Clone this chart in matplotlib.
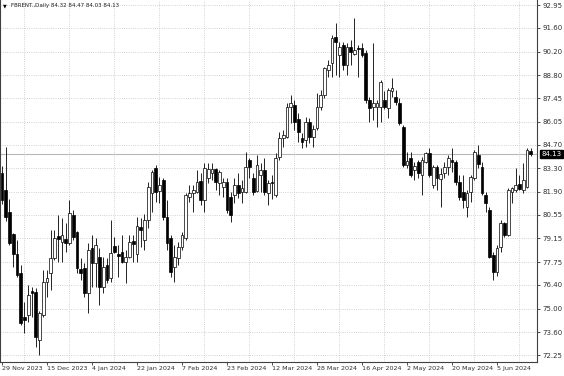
import matplotlib
matplotlib.use("Agg")
import matplotlib.pyplot as plt
import matplotlib.transforms as mtransforms
import numpy as np

# daily bars (29 Nov 2023 .. 18 Jun 2024)
opens = [
    83.02, 82.00, 80.70, 79.40, 78.20, 77.10, 74.50, 74.60, 76.05, 76.00,
    73.14, 74.60, 76.57, 77.10, 78.00, 79.30, 78.94, 79.10, 78.88, 80.53,
    79.53, 77.34, 77.40, 75.92, 78.58, 77.70, 78.05, 76.28, 77.58, 76.81,
    78.70, 78.20, 78.35, 77.75, 78.05, 79.00, 78.23, 79.83, 79.06, 80.24,
    81.84, 83.32, 81.96, 82.60, 80.42, 79.18, 77.46, 77.99, 78.64, 79.18,
    81.60, 81.84, 81.90, 82.55, 81.42, 82.72, 83.02, 83.26, 82.43, 82.20,
    82.49, 81.60, 81.72, 82.31, 81.90, 81.90, 83.79, 82.72, 81.96, 82.90,
    83.20, 81.84, 82.50, 81.72, 83.97, 85.09, 85.15, 86.92, 87.04, 86.21,
    85.09, 84.97, 86.03, 85.15, 85.68, 86.92, 87.63, 89.11, 89.52, 91.06,
    89.99, 90.59, 89.41, 90.47, 90.06, 90.41, 90.41, 90.11, 87.34, 86.92,
    86.92, 86.92, 87.34, 86.86, 87.87, 87.52, 87.16, 85.74, 83.49, 83.91,
    83.20, 83.67, 82.90, 83.67, 84.20, 82.31, 83.38, 82.66, 83.02, 83.38,
    83.79, 83.67, 82.49, 81.90, 81.01, 81.90, 82.72, 84.08, 83.38, 81.72,
    80.83, 78.17, 77.16, 78.64, 80.06, 79.35, 81.90, 82.02, 82.37, 82.02,
    82.20, 84.32,
]
highs = [
    83.45, 84.55, 81.50, 79.47, 79.06, 77.58, 75.40, 76.40, 76.28, 76.20,
    74.86, 77.28, 77.28, 79.65, 79.65, 80.53, 80.36, 80.06, 81.42, 80.83,
    79.60, 77.99, 77.70, 78.88, 79.35, 79.18, 78.58, 78.05, 77.99, 80.24,
    79.24, 78.76, 79.35, 78.47, 79.35, 79.35, 80.40, 80.36, 80.60, 82.49,
    83.20, 83.49, 82.78, 82.72, 81.42, 79.35, 78.76, 78.94, 79.53, 81.84,
    82.31, 82.31, 83.20, 83.02, 83.61, 83.61, 83.61, 83.32, 83.20, 82.72,
    82.72, 81.90, 82.72, 83.02, 82.60, 84.26, 83.91, 83.02, 84.08, 83.61,
    83.91, 82.60, 82.90, 84.20, 85.44, 85.56, 87.16, 87.63, 87.34, 86.57,
    85.38, 86.33, 86.27, 85.86, 87.75, 87.93, 89.29, 89.70, 91.18, 91.89,
    90.77, 90.77, 90.71, 90.88, 92.19, 90.59, 90.71, 90.29, 87.52, 90.71,
    87.34, 88.52, 87.87, 88.05, 88.64, 87.93, 87.46, 85.86, 84.26, 84.26,
    83.67, 83.79, 83.97, 84.26, 84.50, 83.49, 83.49, 83.32, 83.67, 84.08,
    84.50, 83.79, 82.90, 82.90, 82.02, 82.90, 84.38, 84.70, 83.67, 81.90,
    81.01, 78.35, 78.76, 80.24, 80.10, 82.13, 82.20, 83.32, 82.90, 83.61,
    84.50, 84.47,
]
lows = [
    81.20, 80.20, 78.76, 77.46, 76.87, 74.05, 73.56, 74.20, 74.50, 72.73,
    72.25, 74.50, 75.69, 76.10, 77.87, 77.75, 77.75, 78.35, 78.76, 79.06,
    77.10, 76.69, 75.69, 74.74, 76.28, 76.28, 75.21, 75.92, 76.51, 76.57,
    78.29, 76.87, 77.70, 76.51, 77.99, 77.75, 77.75, 78.64, 78.47, 79.77,
    80.71, 81.30, 81.24, 80.24, 78.47, 76.87, 76.57, 77.58, 78.47, 79.06,
    81.30, 80.71, 81.84, 81.13, 80.71, 82.43, 82.60, 82.02, 81.72, 81.60,
    80.65, 80.12, 81.24, 81.54, 81.24, 81.84, 82.72, 81.72, 81.90, 81.90,
    81.72, 81.13, 81.50, 81.60, 83.79, 84.56, 85.09, 85.97, 85.56, 84.85,
    84.50, 84.56, 84.80, 84.56, 85.56, 86.75, 87.46, 88.70, 88.70, 88.82,
    88.70, 89.11, 88.82, 89.41, 89.99, 88.70, 89.88, 87.16, 86.03, 86.15,
    85.74, 86.03, 86.80, 86.27, 87.52, 87.05, 85.86, 83.38, 83.32, 82.78,
    82.61, 82.72, 81.72, 83.60, 82.78, 82.13, 82.02, 81.01, 82.72, 82.90,
    83.08, 82.31, 81.42, 80.95, 80.42, 81.30, 82.60, 83.30, 81.72, 80.71,
    78.00, 76.69, 76.93, 78.35, 79.24, 79.30, 81.24, 81.90, 82.02, 81.84,
    82.13, 84.03,
]
closes = [
    81.40, 80.40, 78.90, 78.20, 77.00, 74.15, 74.30, 75.80, 75.95, 73.30,
    74.74, 76.60, 76.80, 78.00, 79.20, 79.10, 79.35, 78.90, 80.65, 79.24,
    77.40, 77.10, 75.92, 78.47, 77.70, 78.76, 76.28, 77.46, 76.69, 78.29,
    78.35, 78.10, 77.75, 78.05, 78.94, 78.82, 79.88, 79.65, 80.24, 82.19,
    83.08, 81.90, 82.31, 80.42, 78.88, 77.16, 78.05, 78.64, 79.35, 81.72,
    81.84, 82.02, 82.49, 81.42, 83.32, 83.26, 83.26, 82.49, 83.08, 82.49,
    80.83, 80.53, 82.31, 81.84, 82.13, 83.38, 83.38, 81.90, 83.49, 83.20,
    81.90, 82.43, 82.40, 83.91, 85.09, 85.27, 86.92, 87.16, 86.03, 85.44,
    84.85, 86.03, 85.15, 85.62, 86.92, 87.63, 89.23, 89.41, 91.00, 90.77,
    90.47, 89.41, 90.47, 90.17, 90.29, 90.35, 89.99, 87.34, 86.86, 87.16,
    87.16, 88.40, 86.92, 87.93, 88.05, 87.22, 85.97, 83.49, 83.73, 82.90,
    83.43, 83.02, 83.79, 84.20, 82.90, 83.38, 82.72, 82.96, 83.38, 83.91,
    83.67, 82.49, 81.60, 81.42, 81.84, 82.78, 84.26, 83.55, 81.84, 81.24,
    78.05, 77.16, 78.58, 80.06, 79.35, 82.02, 82.13, 82.31, 82.08, 82.61,
    84.38, 84.13,
]

price_ticks = [92.95, 91.60, 90.20, 88.80, 87.45, 86.05, 84.70, 83.30,
               81.90, 80.55, 79.15, 77.75, 76.40, 75.00, 73.60, 72.25]
date_labels = ["29 Nov 2023", "15 Dec 2023", "4 Jan 2024", "22 Jan 2024",
               "7 Feb 2024", "23 Feb 2024", "12 Mar 2024", "28 Mar 2024",
               "16 Apr 2024", "2 May 2024", "20 May 2024", "5 Jun 2024"]
title = "FBRENT.,Daily 84.32 84.47 84.03 84.13"
last_price = 84.13

W, H = 564, 376
fig = plt.figure(figsize=(W / 100, H / 100), dpi=100)
ax = fig.add_axes([0.0, 14 / H, 537 / W, 362 / H])

o = np.array(opens)
hi = np.array(highs)
lo = np.array(lows)
c = np.array(closes)
x = np.arange(len(o))
up = c >= o
body_bottom = np.minimum(o, c)
body_height = np.maximum(np.abs(c - o), 0.04)

ax.axhline(last_price, color="#b8b8b8", lw=0.8, zorder=1)
ax.vlines(x, lo, hi, color="black", lw=0.6, zorder=2)
ax.bar(x[up], body_height[up], bottom=body_bottom[up], width=0.7,
       color="white", edgecolor="black", linewidth=0.5, zorder=3)
ax.bar(x[~up], body_height[~up], bottom=body_bottom[~up], width=0.7,
       color="black", edgecolor="black", linewidth=0.5, zorder=3)

ax.set_xlim(-0.53, 142.67)
ax.set_ylim(71.84, 93.25)

# price axis on the right
ax.yaxis.tick_right()
ax.set_yticks(price_ticks)
ax.set_yticklabels([f"{v:.2f}" for v in price_ticks])
ax.tick_params(axis="y", which="major", length=2, width=0.6, pad=2,
               labelsize=5, colors="#303030")

# date axis, labels every 12 bars, grid every 6
ax.set_xticks(np.arange(len(date_labels)) * 12)
ax.set_xticklabels(date_labels)
ax.set_xticks(np.arange(0, len(o) + 1, 6), minor=True)
ax.tick_params(axis="x", which="major", length=2, width=0.6, pad=1,
               labelsize=4.6, colors="#303030")
ax.tick_params(axis="x", which="minor", length=0)
for lbl in ax.get_xticklabels():
    lbl.set_horizontalalignment("left")

ax.grid(True, axis="y", which="major", color="#c4c4c4", ls=":", lw=0.6)
ax.grid(True, axis="x", which="minor", color="#c4c4c4", ls=":", lw=0.6)
ax.set_axisbelow(True)

ax.spines["top"].set_visible(False)
for side in ("left", "right", "bottom"):
    ax.spines[side].set_color("#404040")
    ax.spines[side].set_linewidth(0.8)

# last price box
trans = mtransforms.blended_transform_factory(ax.transAxes, ax.transData)
ax.text(1.008, last_price, f"{last_price:.2f}", transform=trans,
        ha="left", va="center", color="white", fontsize=5,
        bbox=dict(facecolor="black", edgecolor="black", pad=0.9),
        clip_on=False, zorder=5)

fig.text(3 / W, 1 - 5.5 / H, "\u25bc", fontsize=3.5, ha="left", va="center")
fig.text(11 / W, 1 - 5.5 / H, title, fontsize=4.0, ha="left", va="center",
         color="#202020")

fig.savefig("out.png", dpi=100)
